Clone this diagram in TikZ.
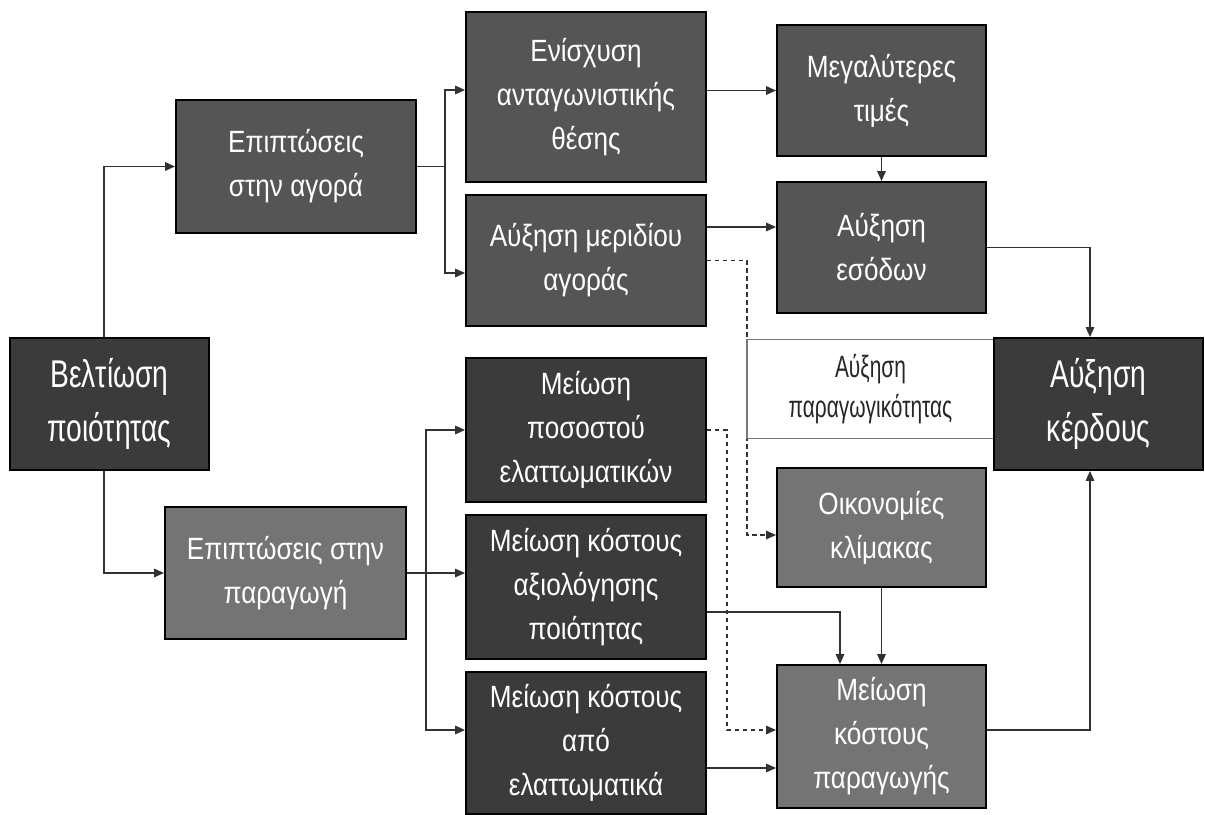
\documentclass[tikz,border=0pt]{standalone}
\usepackage{fontspec}
\setmainfont{Liberation Sans}[FakeStretch=0.85]
\newfontfamily\narrowfont{Liberation Sans}[FakeStretch=0.73]
\newfontfamily\labelfont{Liberation Sans}[FakeStretch=0.68]
\usetikzlibrary{arrows.meta,calc}
\definecolor{cdark}{RGB}{59,59,59}
\definecolor{cmid}{RGB}{85,85,85}
\definecolor{clight}{RGB}{116,116,116}
\definecolor{cline}{RGB}{50,50,50}
\definecolor{cframe}{RGB}{120,120,120}
\begin{document}
\begin{tikzpicture}[x=0.02cm,y=-0.02cm,
 box/.style={draw=black, line width=1.1pt, text=white, align=center, inner sep=1pt, font=\fontsize{17.5}{25}\selectfont},
 bigbox/.style={box, font=\narrowfont\fontsize{22}{31}\selectfont},
 wire/.style={draw=cline, line width=0.9pt},
 conn/.style={wire, -{Triangle[length=0.2cm,width=0.17cm]}},
 dconn/.style={conn, dash pattern=on 0.09cm off 0.07cm},
]
\useasboundingbox[fill=white] (0,0) rectangle (1205,815);

\node[bigbox, fill=cdark, minimum width=3.98cm, minimum height=2.64cm] (belt) at (109.5,404) {Βελτίωση\\ποιότητας};
\node[box, fill=cmid, minimum width=4.8cm, minimum height=2.66cm] (agora) at (296,166.5) {Επιπτώσεις\\στην αγορά};
\node[box, fill=cmid, minimum width=4.8cm, minimum height=3.4cm] (enis) at (586,97) {Ενίσχυση\\ανταγωνιστικής\\θέσης};
\node[box, fill=cmid, minimum width=4.8cm, minimum height=2.62cm] (merid) at (586,260.5) {Αύξηση μεριδίου\\αγοράς};
\node[box, fill=cmid, minimum width=4.18cm, minimum height=2.62cm] (timi) at (881.5,90.5) {Μεγαλύτερες\\τιμές};
\node[box, fill=cmid, minimum width=4.18cm, minimum height=2.62cm] (esod) at (881.5,247.5) {Αύξηση\\εσόδων};
\node[box, fill=cdark, minimum width=4.8cm, minimum height=2.88cm] (posost) at (586,430) {Μείωση\\ποσοστού\\ελαττωματικών};
\node[box, fill=clight, minimum width=4.82cm, minimum height=2.64cm] (eppar) at (285.5,573) {Επιπτώσεις στην\\παραγωγή};
\node[box, fill=cdark, minimum width=4.8cm, minimum height=2.88cm] (axiol) at (586,587) {Μείωση κόστους\\αξιολόγησης\\ποιότητας};
\node[box, fill=cdark, minimum width=4.8cm, minimum height=2.84cm] (elatt) at (586,743) {Μείωση κόστους\\από\\ελαττωματικά};
\node[box, fill=clight, minimum width=4.18cm, minimum height=2.38cm] (oikon) at (881.5,527.5) {Οικονομίες\\κλίμακας};
\node[box, fill=clight, minimum width=4.18cm, minimum height=2.86cm] (mkp) at (881.5,736.5) {Μείωση\\κόστους\\παραγωγής};

% dashed connectors (behind the label box)
\coordinate (d1) at (747,535);
\draw[dconn] (merid.east) -| (d1) -- (oikon.west |- d1);
\coordinate (d2) at (727,730);
\draw[dconn] (posost.east) -| (d2) -- (mkp.west |- d2);

\node[draw=cframe, fill=white, line width=0.8pt, minimum width=4.94cm, minimum height=1.98cm, text=black!85, align=center, font=\labelfont\fontsize{17.5}{23}\selectfont] (parag) at (870.5,389) {Αύξηση\\παραγωγικότητας};

\node[bigbox, fill=cdark, minimum width=4.18cm, minimum height=2.64cm] (kerd) at (1098.5,404) {Αύξηση\\κέρδους};

% connectors
\draw[conn] ([xshift=-0.11cm]belt.north) |- (agora.west);
\draw[conn] ([xshift=-0.11cm]belt.south) |- (eppar.west);

\coordinate (j1) at (445,166.5);
\draw[wire] (agora.east) -- (j1);
\draw[conn] (j1) |- ([yshift=0.14cm]enis.west);
\draw[conn] (j1) |- ([yshift=-0.25cm]merid.west);

\draw[conn] (enis.east |- timi.west) -- (timi.west);
\coordinate (e1) at ([yshift=0.41cm]esod.west);
\draw[conn] (merid.east |- e1) -- (e1);
\draw[conn] (timi.south) -- (esod.north);
\draw[conn] (esod.east) -| ([xshift=-0.17cm]kerd.north);
\draw[conn] (mkp.east |- d2) -| ([xshift=-0.17cm]kerd.south);

\coordinate (j2) at (426,573);
\draw[wire] (eppar.east) -- (j2);
\draw[conn] (j2) |- (posost.west);
\draw[conn] (j2) -- (axiol.west |- j2);
\draw[conn] (j2) |- ([yshift=0.26cm]elatt.west);

\coordinate (e2) at ([yshift=-0.5cm]elatt.east);
\draw[conn] (e2) -- (mkp.west |- e2);
\draw[conn] ([yshift=-0.5cm]axiol.east) -| ([xshift=-0.83cm]mkp.north);
\draw[conn] (oikon.south) -- (mkp.north);
\end{tikzpicture}
\end{document}
